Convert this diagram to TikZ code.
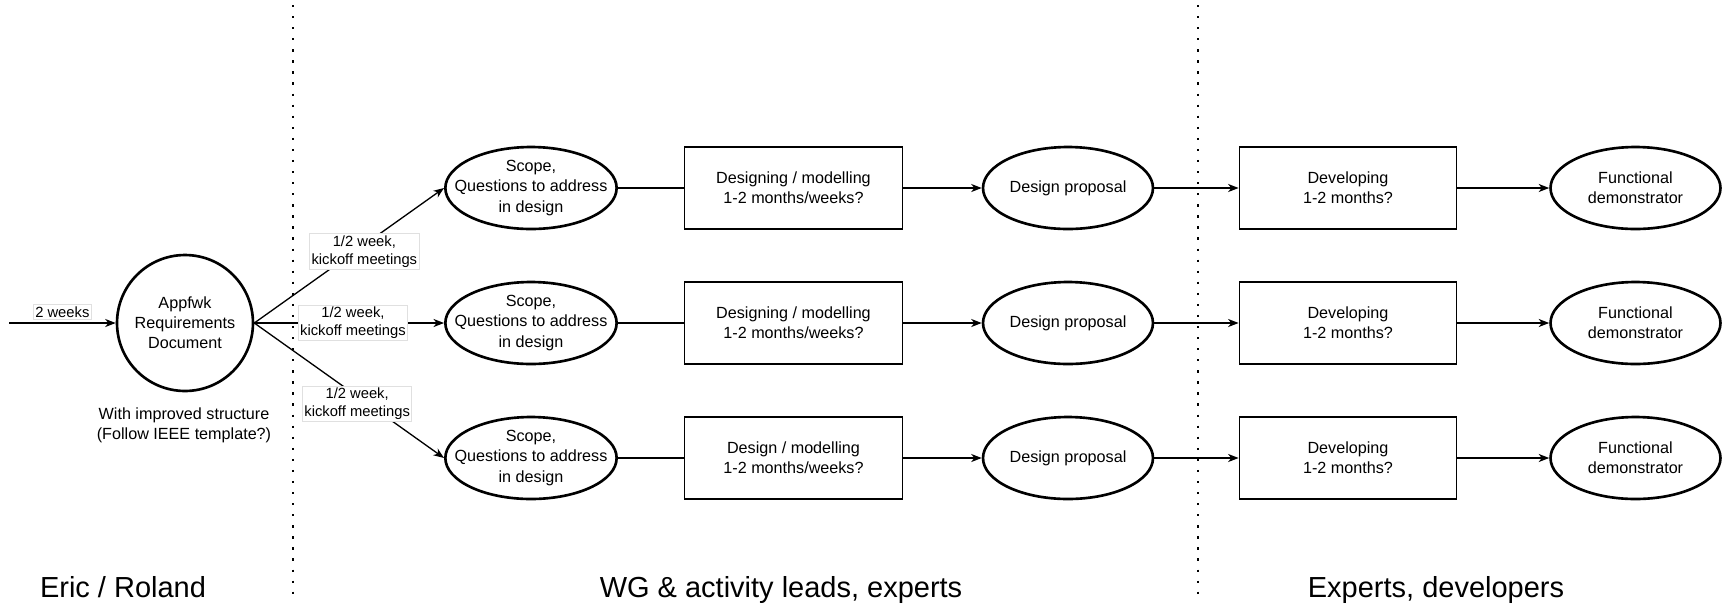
\documentclass[tikz,border=0pt]{standalone}
\usepackage{fontspec}
\setmainfont{Liberation Sans}
\usetikzlibrary{arrows.meta,shapes.geometric}
\tikzset{
	txt/.style={font=\fontsize{9.2}{11.4}\selectfont,align=center},
	ell/.style={txt,draw,ellipse,line width=1.5pt,minimum width=3.4cm,minimum height=1.64cm,inner xsep=-9pt,inner ysep=-2pt},
	box/.style={txt,draw,rectangle,line width=0.75pt,minimum width=4.35cm,minimum height=1.64cm,inner sep=0pt},
	lbl/.style={fill=white,draw=black!12,line width=0.4pt,inner sep=1pt,align=center,font=\fontsize{8.4}{10.4}\selectfont},
	lane/.style={font=\fontsize{16.5}{19}\selectfont,anchor=base},
	sep/.style={line width=1.3pt,dash pattern=on 1.3pt off 5pt},
	conn/.style={line width=0.75pt}
}
\begin{document}
\begin{tikzpicture}[x=0.02cm,y=-0.02cm,>={Stealth[length=6pt,width=4.6pt,inset=1.8pt]}]
	\useasboundingbox (0,0) rectangle (1725,603);
	%
	\draw[sep] (293,5) -- (293,600);
	\draw[sep] (1198,5) -- (1198,600);
	%
	\node[txt,draw,circle,line width=1.5pt,minimum size=2.72cm,inner sep=0pt] (req) at (185,323) {Appfwk\\Requirements\\Document};
	\node[txt] (note) at (184,425) {With improved structure\\(Follow IEEE template?)};
	\coordinate (in) at (9,323);
	\path[->,conn] (in) edge node[lbl,above=2pt,pos=.5]{2 weeks} (req);
	%
	\foreach \i/\y/\w in {1/188/Designing,2/323/Designing,3/458/Design}{
		\node[ell] (scope\i) at (531,\y) {Scope,\\Questions to address\\in design};
		\node[box] (work\i) at (793.5,\y) {\w{} / modelling\\1-2 months/weeks?};
		\node[ell] (prop\i) at (1068,\y) {Design proposal};
		\node[box] (dev\i) at (1348,\y) {Developing\\1-2 months?};
		\node[ell] (demo\i) at (1635.5,\y) {Functional\\demonstrator};
		\draw[conn] (scope\i) -- (work\i);
		\path[->,conn] (work\i) edge (prop\i)
			(prop\i) edge (dev\i)
			(dev\i) edge (demo\i);
	}
	%
	\path[->,conn]
	(req.east) edge node[lbl,pos=.53,xshift=.19cm]{1/2 week,\\kickoff meetings} (scope1.west)
		edge node[lbl,pos=.52]{1/2 week,\\kickoff meetings} (scope2.west)
		edge node[lbl,pos=.6,xshift=-.22cm]{1/2 week,\\kickoff meetings} (scope3.west);
	%
	\node[lane] (eric) at (123,597) {Eric / Roland};
	\node[lane] (wg) at (781,597) {WG \& activity leads, experts};
	\node[lane] (devs) at (1436,597) {Experts, developers};
\end{tikzpicture}
\end{document}
